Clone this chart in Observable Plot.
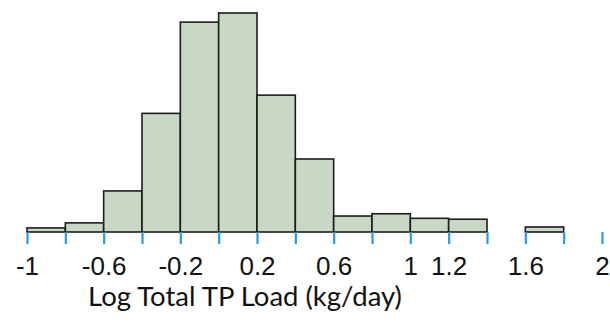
<!DOCTYPE html>
<html>
<head>
<meta charset="utf-8">
<script src="https://cdn.jsdelivr.net/npm/d3@7"></script>
<script src="https://cdn.jsdelivr.net/npm/@observablehq/plot@0.6"></script>
<style>
  html, body { margin: 0; padding: 0; background: #fff; }
  #wrap { position: relative; width: 610px; height: 325px; }
  #xlabel { position: absolute; left: 0; width: 490px; top: 279px; text-align: center;
            font-family: Lato, "Open Sans", sans-serif; font-size: 27.5px; color: #111; }
</style>
</head>
<body>
<div id="wrap"><div id="chart"></div><div id="xlabel">Log Total TP Load (kg/day)</div></div>
<script>
// Histogram bins (start of each 0.2-wide bin) and counts
const binStarts = [-1, -0.8, -0.6, -0.4, -0.2, 0, 0.2, 0.4, 0.6, 0.8, 1.0, 1.2, 1.4, 1.6, 1.8];
const counts    = [0.9, 2, 9, 26, 46, 48, 30, 16, 3.5, 4, 3, 2.8, 0, 1.1, 0];
const binWidth = 0.2;

// Axis ticks and labels
const tickValues = [-1, -0.8, -0.6, -0.4, -0.2, 0, 0.2, 0.4, 0.6, 0.8, 1, 1.2, 1.4, 1.6, 1.8, 2];
const labelValues = [-1, -0.6, -0.2, 0.2, 0.6, 1, 1.2, 1.6, 2];
const labelTexts  = ["-1", "-0.6", "-0.2", "0.2", "0.6", "1", "1.2", "1.6", "2"];

const bins = binStarts.map((s, i) => ({x1: s, x2: +(s + binWidth).toFixed(2), count: counts[i]}))
  .filter(d => d.count > 0);

const chart = Plot.plot({
  width: 610,
  height: 325,
  marginLeft: 27,
  marginRight: 8,
  marginTop: 13,
  marginBottom: 93,
  style: {background: "transparent"},
  x: {domain: [-1, 2]},
  y: {domain: [0, 48], axis: null},
  marks: [
    Plot.rectY(bins, {x1: "x1", x2: "x2", y: "count", fill: "#c9d8c5", stroke: "#1c1c1c", strokeWidth: 1.6, inset: 0}),
    Plot.axisX(tickValues, {tickSize: 12, stroke: "#2a9be0", strokeWidth: 2.2, tickFormat: () => "", label: null}),
    Plot.axisX(labelValues, {tickSize: 0, tickPadding: 24, tickFormat: d => labelTexts[labelValues.indexOf(d)],
      fontSize: 26, fontFamily: "'Liberation Sans', Arial, sans-serif", fill: "#111", label: null})
  ]
});
document.getElementById("chart").appendChild(chart);
</script>
</body>
</html>
